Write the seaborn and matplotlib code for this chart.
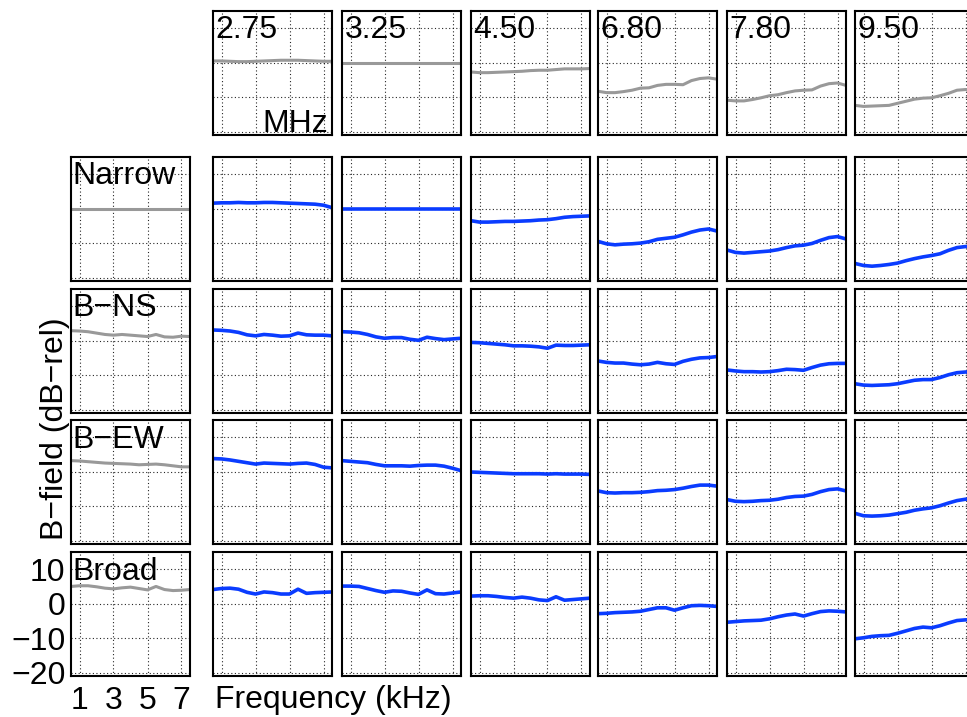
import matplotlib
matplotlib.use("Agg")
import matplotlib.pyplot as plt
import numpy as np
import pandas as pd
import seaborn as sns

# Frequency axis (kHz) shared by every panel
freq_khz = [0.5, 1.0, 1.5, 2.0, 2.5, 3.0, 3.5, 4.0, 4.5, 5.0, 5.5, 6.0, 6.5, 7.0, 7.5]

# Carrier frequencies (MHz) across the columns and antenna configurations down the rows
carriers = ["2.75", "3.25", "4.50", "6.80", "7.80", "9.50"]
configs = ["Narrow", "B\u2212NS", "B\u2212EW", "Broad"]

# Reference curve for each carrier (top row, grey)
carrier_ref = [
    [0.5, 0.5, 0.4, 0.3, 0.3, 0.4, 0.5, 0.6, 0.7, 0.7, 0.7, 0.6, 0.5, 0.4, 0.4],
    [0.0, 0.0, 0.0, 0.0, 0.0, 0.0, 0.0, 0.0, 0.0, 0.0, 0.0, 0.0, 0.0, 0.0, 0.0],
    [-2.7, -2.9, -2.9, -2.8, -2.7, -2.6, -2.5, -2.3, -2.2, -2.2, -2.0, -1.8, -1.8, -1.8, -1.7],
    [-8.3, -8.7, -8.7, -8.4, -8.0, -7.4, -7.3, -6.6, -6.3, -6.3, -6.4, -5.2, -4.6, -4.4, -4.8],
    [-10.9, -11.1, -11.1, -10.7, -10.2, -9.6, -9.3, -8.7, -8.2, -8.0, -7.9, -6.8, -6.1, -5.9, -6.6],
    [-12.4, -12.7, -12.6, -12.5, -12.4, -11.8, -11.2, -10.6, -10.3, -10.2, -9.6, -8.9, -8.0, -7.8, -7.8],
]

# Reference curve for each configuration (left column, grey)
config_ref = [
    [0.0, 0.0, 0.0, 0.0, 0.0, 0.0, 0.0, 0.0, 0.0, 0.0, 0.0, 0.0, 0.0, 0.0, 0.0],
    [2.9, 2.8, 2.6, 2.2, 1.8, 1.6, 1.8, 1.6, 1.4, 1.2, 1.8, 1.1, 1.0, 1.3, 1.2],
    [3.2, 3.1, 2.9, 2.7, 2.5, 2.4, 2.3, 2.2, 2.0, 2.1, 2.2, 2.0, 1.7, 1.4, 1.4],
    [5.0, 5.2, 5.2, 4.9, 4.5, 4.3, 4.6, 4.8, 4.4, 4.0, 5.0, 4.1, 3.8, 3.9, 4.1],
]

# Measured B-field per configuration, one list per carrier
narrow = [
    [1.6, 1.7, 1.7, 1.8, 1.7, 1.7, 1.8, 1.8, 1.7, 1.6, 1.5, 1.4, 1.3, 1.0, 0.3],
    [0.0, 0.0, 0.0, 0.0, 0.0, 0.0, 0.0, 0.0, 0.0, 0.0, 0.0, 0.0, 0.0, 0.0, 0.0],
    [-3.5, -3.9, -3.9, -3.8, -3.7, -3.7, -3.6, -3.5, -3.3, -3.2, -2.9, -2.5, -2.3, -2.2, -2.1],
    [-9.5, -10.2, -10.5, -10.3, -10.2, -10.0, -9.6, -8.9, -8.6, -8.3, -7.6, -6.8, -6.2, -5.9, -6.5],
    [-12.0, -12.7, -12.9, -12.7, -12.5, -12.3, -11.9, -11.3, -10.8, -10.6, -10.1, -9.2, -8.4, -8.1, -8.8],
    [-15.9, -16.5, -16.7, -16.5, -16.2, -15.8, -15.1, -14.5, -14.0, -13.6, -13.1, -12.1, -11.3, -11.0, -11.0],
]
b_ns = [
    [3.1, 3.0, 2.8, 2.4, 1.7, 1.4, 1.8, 1.6, 1.3, 1.4, 2.2, 1.7, 1.6, 1.6, 1.4],
    [2.6, 2.5, 2.3, 1.8, 1.1, 0.7, 0.9, 0.9, 0.4, 0.1, 1.0, 0.6, 0.3, 0.5, 0.7],
    [-0.5, -0.6, -0.8, -1.0, -1.2, -1.5, -1.5, -1.6, -1.8, -2.2, -1.3, -1.4, -1.4, -1.3, -1.2],
    [-5.9, -6.3, -6.5, -6.5, -6.8, -7.0, -6.8, -6.3, -6.7, -6.9, -6.0, -5.4, -5.0, -4.9, -4.6],
    [-8.5, -8.8, -9.0, -9.0, -9.1, -9.0, -8.7, -8.3, -8.4, -8.6, -7.8, -7.1, -6.7, -6.6, -6.6],
    [-12.5, -12.9, -13.0, -12.9, -12.8, -12.5, -12.0, -11.5, -11.3, -11.3, -10.7, -9.9, -9.3, -9.1, -9.1],
]
b_ew = [
    [3.8, 3.7, 3.4, 3.0, 2.6, 2.2, 2.5, 2.4, 2.3, 2.2, 2.4, 2.5, 2.1, 1.3, 1.1],
    [3.2, 3.0, 2.8, 2.6, 2.1, 1.7, 1.7, 1.7, 1.6, 1.8, 1.9, 1.9, 1.6, 1.0, 0.3],
    [-0.1, -0.2, -0.3, -0.4, -0.5, -0.6, -0.6, -0.6, -0.6, -0.7, -0.6, -0.7, -0.7, -0.7, -0.8],
    [-5.6, -6.1, -6.2, -6.1, -6.1, -6.0, -5.8, -5.5, -5.4, -5.2, -4.8, -4.3, -3.9, -3.9, -4.2],
    [-8.1, -8.6, -8.7, -8.6, -8.4, -8.3, -8.0, -7.5, -7.2, -7.1, -6.6, -5.8, -5.2, -5.0, -5.6],
    [-12.1, -12.8, -12.9, -12.8, -12.6, -12.2, -11.8, -11.2, -10.8, -10.5, -9.9, -9.1, -8.4, -8.0, -7.8],
]
broad = [
    [4.1, 4.4, 4.5, 4.2, 3.3, 2.8, 3.4, 3.2, 2.8, 2.8, 4.2, 3.0, 3.2, 3.3, 3.4],
    [5.1, 5.1, 5.0, 4.4, 3.8, 3.3, 3.7, 3.6, 3.1, 2.7, 4.0, 2.9, 2.8, 3.1, 3.4],
    [2.2, 2.3, 2.3, 2.1, 1.8, 1.6, 1.9, 1.6, 1.1, 0.9, 2.0, 1.0, 1.2, 1.4, 1.6],
    [-2.9, -2.8, -2.6, -2.5, -2.4, -2.2, -1.7, -1.2, -1.2, -1.9, -1.2, -0.6, -0.5, -0.6, -0.8],
    [-5.4, -5.2, -5.0, -4.9, -4.8, -4.4, -3.8, -3.3, -3.0, -3.6, -2.9, -2.3, -2.1, -2.2, -2.4],
    [-10.2, -9.9, -9.5, -9.3, -9.2, -8.6, -7.9, -7.2, -6.8, -7.0, -6.4, -5.6, -4.9, -4.7, -4.7],
]
measured = [narrow, b_ns, b_ew, broad]

x_ticks = [1, 3, 5, 7]
y_ticks = [-20, -10, 0, 10]

sns.set_theme(style="white")
plt.rcParams["font.family"] = ["Liberation Sans", "DejaVu Sans"]
plt.rcParams["axes.unicode_minus"] = True
plt.rcParams["text.color"] = "black"
plt.rcParams["xtick.color"] = "black"
plt.rcParams["ytick.color"] = "black"
plt.rcParams["axes.labelcolor"] = "black"

FS = 23
GREY = "#999999"
BLUE = "#0a3cff"

W, H = 967, 717
fig = plt.figure(figsize=(W / 100, H / 100), dpi=100)
fig.patch.set_facecolor("white")

col_left = [71, 213, 342, 471, 598, 727, 855]
row_top = [11, 157, 289, 420, 552]
CW, CH = 119, 124


def panel(col, row):
    ax = fig.add_axes([col_left[col] / W, 1 - (row_top[row] + CH) / H, CW / W, CH / H])
    ax.set_facecolor("white")
    ax.set_xlim(0.5, 7.5)
    ax.set_ylim(-21, 15)
    ax.set_xticks(x_ticks)
    ax.set_yticks(y_ticks)
    ax.grid(True, color="black", linestyle=(0, (1, 2.2)), linewidth=0.8, alpha=0.85)
    ax.set_axisbelow(True)
    for s in ax.spines.values():
        s.set_visible(True)
        s.set_color("black")
        s.set_linewidth(1.5)
    ax.tick_params(direction="in", length=0, labelcolor="black",
                   labelbottom=False, labelleft=False, labelsize=FS)
    ax.set_xlabel("")
    ax.set_ylabel("")
    return ax


def draw(ax, values, color, lw):
    df = pd.DataFrame({"freq": freq_khz, "db": values})
    sns.lineplot(data=df, x="freq", y="db", ax=ax, color=color, linewidth=lw,
                 estimator=None, legend=False)
    ax.set_xlabel("")
    ax.set_ylabel("")


TXT_Y = 1 - 27.5 / CH

# top row: carrier reference curves
for j, mhz in enumerate(carriers):
    ax = panel(j + 1, 0)
    draw(ax, carrier_ref[j], GREY, 2.2)
    ax.text(0.02, TXT_Y, mhz, transform=ax.transAxes, fontsize=FS,
            color="black", ha="left", va="baseline")
    if j == 0:
        ax.text(0.965, 3.3 / CH, "MHz", transform=ax.transAxes, fontsize=FS,
                color="black", ha="right", va="baseline")

# left column: configuration reference curves
for i, name in enumerate(configs):
    ax = panel(0, i + 1)
    draw(ax, config_ref[i], GREY, 2.2)
    ax.text(0.01, TXT_Y, name, transform=ax.transAxes, fontsize=FS,
            color="black", ha="left", va="baseline")
    if i == len(configs) - 1:
        ax.tick_params(labelbottom=True, labelleft=True)
        ax.tick_params(axis="x", pad=7)
        ax.tick_params(axis="y", pad=4)
        ax.set_xticklabels([str(t) for t in x_ticks])
        ax.set_yticklabels([str(t).replace("-", "\u2212") for t in y_ticks])

# measured curves
for i in range(len(configs)):
    for j in range(len(carriers)):
        ax = panel(j + 1, i + 1)
        draw(ax, measured[i][j], BLUE, 2.6)

fig.text(63 / W, 1 - 429 / H, "B\u2212field (dB\u2212rel)", fontsize=FS,
         color="black", rotation=90, rotation_mode="anchor", ha="center", va="baseline")
fig.text(215 / W, 1 - 708 / H, "Frequency (kHz)", fontsize=FS,
         color="black", ha="left", va="baseline")

fig.savefig("out.png", dpi=100, facecolor="white")
